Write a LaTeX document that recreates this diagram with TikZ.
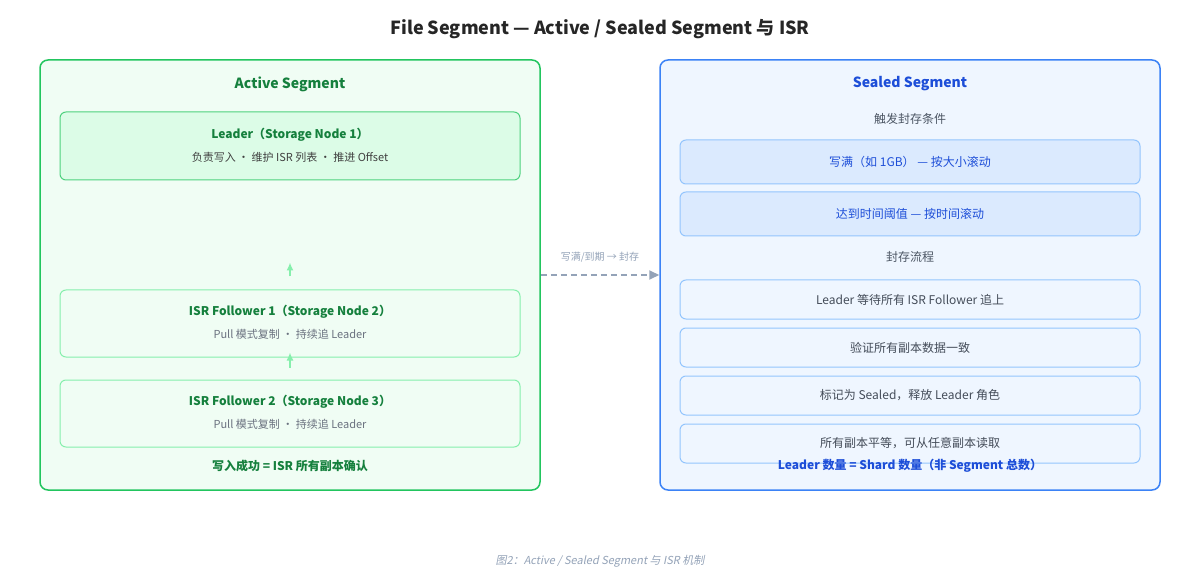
\documentclass[tikz,border=0pt]{standalone}
\usepackage{fontspec}
\setmainfont{Noto Sans CJK SC}
\newfontfamily\capfont[FakeSlant=0.2]{Noto Sans CJK SC}
\usetikzlibrary{arrows.meta}
\definecolor{grnline}{HTML}{22C55E}
\definecolor{grnfill}{HTML}{F0FDF4}
\definecolor{grnbox}{HTML}{DCFCE7}
\definecolor{grnlite}{HTML}{86EFAC}
\definecolor{grntext}{HTML}{15803D}
\definecolor{bluline}{HTML}{3B82F6}
\definecolor{blufill}{HTML}{EFF6FF}
\definecolor{blubox}{HTML}{DBEAFE}
\definecolor{blulite}{HTML}{93C5FD}
\definecolor{blutext}{HTML}{1D4ED8}
\definecolor{graytext}{HTML}{4B5563}
\definecolor{mutetext}{HTML}{6B7280}
\definecolor{arrgray}{HTML}{94A3B8}
\tikzset{
  panel/.style={draw, line width=1.5pt, rounded corners=8pt, minimum width=500pt, minimum height=430pt, inner sep=0pt},
  box/.style={draw, line width=1pt, rounded corners=6pt, minimum width=460pt, inner sep=0pt},
  hdr/.style={font=\fontsize{14}{16}\selectfont\bfseries},
  small/.style={font=\fontsize{12}{14}\selectfont},
}
\begin{document}
\begin{tikzpicture}[x=1pt,y=-1pt]
\useasboundingbox[fill=white] (0,0) rectangle (1200,580);

% title
\node[font=\fontsize{18}{20}\selectfont\bfseries, text=black!85] (title) at (600,29) {File Segment — Active / Sealed Segment 与 ISR};

% ======================================
% ACTIVE SEGMENT
% ======================================
\node[panel, draw=grnline, fill=grnfill] (active) at (290,275) {};
\node[hdr, text=grntext] (atitle) at (290,84) {Active Segment};

\node[box, draw=grnline!80, fill=grnbox, minimum height=68pt] (leader) at (290,146) {};
\node[small, text=grntext, font=\fontsize{12}{14}\selectfont\bfseries] (leadA) at (290,135) {Leader（Storage Node 1）};
\node[small, text=black!75, font=\fontsize{11}{13}\selectfont] (leadB) at (290,157) {负责写入 · 维护 ISR 列表 · 推进 Offset};

\node[box, draw=grnlite, fill=grnfill, minimum height=67pt] (fol1) at (290,323.5) {};
\node[text=grntext, font=\fontsize{12}{14}\selectfont\bfseries] (f1A) at (290,312) {ISR Follower 1（Storage Node 2）};
\node[text=mutetext, font=\fontsize{11}{13}\selectfont] (f1B) at (290,334) {Pull 模式复制 · 持续追 Leader};

\node[box, draw=grnlite, fill=grnfill, minimum height=67pt] (fol2) at (290,413.5) {};
\node[text=grntext, font=\fontsize{12}{14}\selectfont\bfseries] (f2A) at (290,402) {ISR Follower 2（Storage Node 3）};
\node[text=mutetext, font=\fontsize{11}{13}\selectfont] (f2B) at (290,424) {Pull 模式复制 · 持续追 Leader};

\draw[-{Latex[length=8pt,width=7pt]}, grnlite, line width=1.5pt, shorten <=13pt, shorten >=82pt] (fol1.north) -- (leader.south);
\draw[-{Latex[length=8pt,width=7pt]}, grnlite, line width=1.5pt, shorten <=12pt, shorten >=-5pt] (fol2.north) -- (fol1.south);

\node[text=grntext, font=\fontsize{12}{14}\selectfont\bfseries] (acap) at (290,466) {写入成功 = ISR 所有副本确认};

% ======================================
% SEALED SEGMENT
% ======================================
\node[panel, draw=bluline, fill=blufill] (sealed) at (910,275) {};
\node[hdr, text=blutext] (stitle) at (910,84) {Sealed Segment};

\node[small, text=graytext] (trig) at (910,119) {触发封存条件};
\node[box, draw=blulite, fill=blubox, minimum height=44pt, text=blutext, font=\fontsize{12}{14}\selectfont] (full) at (910,162) {写满（如 1GB） — 按大小滚动};
\node[box, draw=blulite, fill=blubox, minimum height=44pt, text=blutext, font=\fontsize{12}{14}\selectfont] (time) at (910,214) {达到时间阈值 — 按时间滚动};

\node[small, text=graytext] (flow) at (910,257) {封存流程};
\foreach \y/\nm/\txt in {299.5/s1/Leader 等待所有 ISR Follower 追上, 347.5/s2/验证所有副本数据一致, 395.5/s3/标记为 Sealed，释放 Leader 角色, 443.5/s4/所有副本平等，可从任意副本读取}
  \node[box, draw=blulite, fill=blufill, minimum height=39pt, text=graytext!90!black, font=\fontsize{12}{14}\selectfont] (\nm) at (910,\y) {\txt};
\path (s4.center) ++(0,-5) node (s4t) {};

\node[text=blutext, font=\fontsize{12}{14}\selectfont\bfseries] (scap) at (910,466) {Leader 数量 = Shard 数量（非 Segment 总数）};

% ======================================
% TRANSITION
% ======================================
\draw[-{Triangle[length=10pt,width=9pt]}, arrgray, line width=1.8pt, dash pattern=on 6pt off 4pt] (active.east) -- (sealed.west);
\node[text=arrgray, font=\fontsize{10}{12}\selectfont] (tlabel) at (600,257) {写满/到期 → 封存};

% caption
\node[text=arrgray, font=\capfont\fontsize{11}{13}\selectfont] (caption) at (600,561) {图2：Active / Sealed Segment 与 ISR 机制};

\end{tikzpicture}
\end{document}
